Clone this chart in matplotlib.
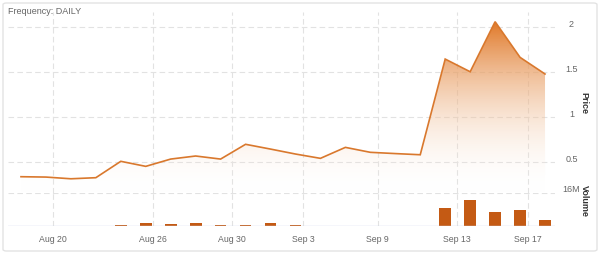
import matplotlib
matplotlib.use("Agg")
import matplotlib.pyplot as plt
import numpy as np
from matplotlib.patches import FancyBboxPatch, Polygon
from matplotlib.colors import LinearSegmentedColormap
from matplotlib.transforms import offset_copy

plt.rcParams['font.family'] = ['Liberation Sans', 'DejaVu Sans']

# daily series (one point per trading day)
price = [0.337, 0.333, 0.314, 0.326, 0.508, 0.452, 0.533, 0.567, 0.533, 0.697, 0.644,
         0.589, 0.541, 0.663, 0.608, 0.594, 0.581, 1.644, 1.503, 2.059, 1.663, 1.478]
volume_m = [0, 0, 0, 0, 0.4, 1.5, 1.0, 1.5, 0.4, 0.7, 1.5,
            0.4, 0, 0, 0, 0, 0, 8.7, 12.6, 6.8, 7.8, 2.9]
tick_labels = ['Aug 20', 'Aug 26', 'Aug 30', 'Sep 3', 'Sep 9', 'Sep 13', 'Sep 17']
tick_pos = [1.28, 5.29, 8.46, 11.3, 14.3, 17.47, 20.3]
price_ticks = [0.5, 1, 1.5, 2]
price_tick_labels = ['0.5', '1', '1.5', '2']

W, H = 600, 255
fig = plt.figure(figsize=(W / 100, H / 100), dpi=100)

# card border
fig.patches.append(FancyBboxPatch((3 / W, 3 / H), 594 / W, 248 / H,
                                  boxstyle="round,pad=0,rounding_size=0.006",
                                  transform=fig.transFigure, fc='white',
                                  ec='#e3e3e3', lw=1, zorder=-5))

def box(x0, y0, x1, y1):
    return [x0 / W, 1 - y1 / H, (x1 - x0) / W, (y1 - y0) / H]

ax = fig.add_axes(box(8, 13, 555, 194))
axv = fig.add_axes(box(8, 194, 555, 227))

x = np.arange(len(price))
xlim = (-0.52, 21.4)
grid_kw = dict(color='#e2e2e2', lw=0.8, ls=(0, (5, 3)), zorder=0)

for a in (ax, axv):
    a.set_xlim(*xlim)
    a.patch.set_alpha(0)
    for s in a.spines.values():
        s.set_visible(False)
    a.tick_params(length=0)
    a.set_yticks([])
    for tp in tick_pos:
        a.axvline(tp, **grid_kw)

# price panel
ax.set_ylim(0.156, 2.167)
for v in price_ticks:
    ax.axhline(v, **grid_kw)
ax.set_xticks([])

line_color = '#d9782d'
cmap = LinearSegmentedColormap.from_list('g', [(1, 1, 1, 0), (0.88, 0.47, 0.15, 1.0)])
ymin = ax.get_ylim()[0]
ytop = max(price)
grad = np.linspace(0, 1, 256).reshape(-1, 1)
im = ax.imshow(grad, cmap=cmap, origin='lower', aspect='auto',
               extent=[x[0], x[-1], ymin, ytop], zorder=1)
poly = Polygon(np.column_stack([np.r_[x, x[-1], x[0]], np.r_[price, ymin, ymin]]),
               closed=True, fc='none', ec='none', transform=ax.transData)
ax.add_patch(poly)
im.set_clip_path(poly)
ax.set_xlim(*xlim)
ax.set_ylim(0.156, 2.167)
ax.plot(x, price, color=line_color, lw=1.2, zorder=3, solid_joinstyle='miter')

lab_tr = offset_copy(ax.get_yaxis_transform(), fig=fig, x=0, y=4, units='dots')
for v, t in zip(price_ticks, price_tick_labels):
    ax.text(1.03, v, t, transform=lab_tr, ha='center', va='center',
            fontsize=6.5, color='#666666')
ax.text(1.053, 0.5, 'Price', transform=ax.transAxes, rotation=-90,
        ha='center', va='center', fontsize=6.5, color='#333333', fontweight='bold')

# volume panel
axv.set_ylim(0, 16e6)
axv.axhline(16e6, **grid_kw)
axv.bar(x, np.array(volume_m) * 1e6, width=0.47, color='#c45a14', zorder=2)
axv.axhline(0, color='#ccd6eb', lw=1, zorder=3)
axv.set_xticks(tick_pos)
axv.set_xticklabels(tick_labels, fontsize=6.3, color='#666666')
axv.tick_params(axis='x', pad=6)
vtr = offset_copy(axv.get_yaxis_transform(), fig=fig, x=0, y=4, units='dots')
axv.text(1.03, 16e6, '16M', transform=vtr, ha='center', va='center',
         fontsize=6.5, color='#666666')
axv.text(1.053, 0.78, 'Volume', transform=axv.transAxes, rotation=-90,
         ha='center', va='center', fontsize=6.5, color='#333333', fontweight='bold')

fig.text(8 / W, 1 - 12 / H, 'Frequency: DAILY', ha='left', va='center',
         fontsize=6.5, color='#666666')

fig.savefig('out.png', dpi=100)
